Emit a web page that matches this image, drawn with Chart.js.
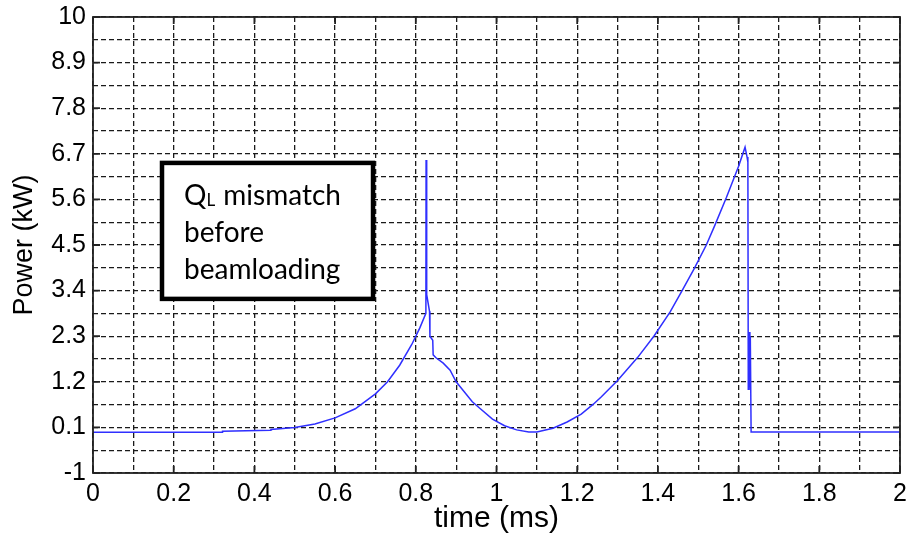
<!DOCTYPE html>
<html>
<head>
<meta charset="utf-8">
<script src="https://cdn.jsdelivr.net/npm/chart.js@4.4.1/dist/chart.umd.min.js"></script>
<style>
  html, body { margin: 0; padding: 0; background: #fff; }
  #wrap { width: 909px; height: 540px; }
</style>
</head>
<body>
<div id="wrap"><canvas id="chart"></canvas></div>
<script>
// values
const timeMs = [0, 0.32, 0.321, 0.44, 0.441, 0.5, 0.55, 0.6, 0.65, 0.7, 0.73, 0.76, 0.79, 0.81,
  0.825, 0.8255, 0.827, 0.834, 0.835, 0.842, 0.843, 0.85, 0.868, 0.885, 0.9, 0.92, 0.94, 0.96,
  0.99, 1.02, 1.05, 1.08, 1.1, 1.14, 1.175, 1.21, 1.24, 1.26, 1.3, 1.35, 1.39, 1.43, 1.46, 1.49,
  1.52, 1.54, 1.57, 1.6, 1.616, 1.621, 1.623, 1.624, 1.626, 1.628, 1.629, 1.631, 2];
const powerKW = [-0.02, -0.02, 0.01, 0.03, 0.05, 0.1, 0.18, 0.33, 0.55, 0.91, 1.2, 1.6, 2.1, 2.5,
  2.85, 6.55, 3.3, 2.9, 2.3, 2.2, 1.85, 1.78, 1.65, 1.48, 1.2, 0.96, 0.72, 0.55,
  0.3, 0.14, 0.04, -0.01, -0.01, 0.08, 0.23, 0.42, 0.66, 0.84, 1.23, 1.79, 2.3, 2.88, 3.4, 3.93,
  4.5, 4.95, 5.65, 6.4, 6.86, 6.62, 6.5, 1.0, 2.4, 1.0, 2.3, -0.01, -0.01];

const xTicks = [0, 0.2, 0.4, 0.6, 0.8, 1, 1.2, 1.4, 1.6, 1.8, 2];
const yTicks = [-1, 0.1, 1.2, 2.3, 3.4, 4.5, 5.6, 6.7, 7.8, 8.9, 10];

const xTitle = "time (ms)";
const yTitle = "Power (kW)";
const noteLines = [["Q", "L", " mismatch"], ["before"], ["beamloading"]];

// grid lines sit on every tick and halfway between
function withMidpoints(arr) {
  var out = [];
  for (var i = 0; i < arr.length; i++) {
    out.push(arr[i]);
    if (i < arr.length - 1) out.push((arr[i] + arr[i + 1]) / 2);
  }
  return out;
}
function isMajor(arr, v) {
  return arr.some(function (t) { return Math.abs(t - v) < 1e-6; });
}
function fmt(v) {
  return String(Number(v.toFixed(2)));
}

const sans = "'Liberation Sans', Arial, sans-serif";
const tickFont = { family: sans, size: 25 };

// box, inward tick marks and the text note
const framePlugin = {
  id: "frame",
  afterDraw(chart) {
    const ctx = chart.ctx;
    const a = chart.chartArea;
    const xs = chart.scales.x, ys = chart.scales.y;
    ctx.save();
    ctx.strokeStyle = "#222";
    ctx.lineWidth = 1.8;
    ctx.strokeRect(a.left, a.top, a.right - a.left, a.bottom - a.top);
    ctx.beginPath();
    xTicks.forEach(function (t) {
      const px = xs.getPixelForValue(t);
      ctx.moveTo(px, a.bottom); ctx.lineTo(px, a.bottom - 7);
      ctx.moveTo(px, a.top); ctx.lineTo(px, a.top + 7);
    });
    yTicks.forEach(function (t) {
      const py = ys.getPixelForValue(t);
      ctx.moveTo(a.left, py); ctx.lineTo(a.left + 7, py);
      ctx.moveTo(a.right, py); ctx.lineTo(a.right - 7, py);
    });
    ctx.stroke();

    // note box, placed in data units
    const bx1 = xs.getPixelForValue(0.171), bx2 = xs.getPixelForValue(0.694);
    const by1 = ys.getPixelForValue(6.48), by2 = ys.getPixelForValue(3.2);
    ctx.fillStyle = "#fff";
    ctx.fillRect(bx1, by1, bx2 - bx1, by2 - by1);
    ctx.lineWidth = 4.5;
    ctx.strokeStyle = "#000";
    ctx.strokeRect(bx1, by1, bx2 - bx1, by2 - by1);

    ctx.fillStyle = "#000";
    ctx.textBaseline = "alphabetic";
    ctx.textAlign = "left";
    const big = "28px Lato, 'Open Sans', sans-serif";
    const small = "17px Lato, 'Open Sans', sans-serif";
    let y = by1 + 42;
    noteLines.forEach(function (parts) {
      let x = bx1 + 22;
      parts.forEach(function (p, i) {
        const sub = parts.length > 1 && i === 1;
        ctx.font = sub ? small : big;
        ctx.fillText(p, x, y + (sub ? 1 : 0));
        x += ctx.measureText(p).width + (sub ? 1 : 0);
      });
      y += 37;
    });
    ctx.restore();
  }
};

const ctx = document.getElementById("chart").getContext("2d");
const chart = new Chart(ctx, {
  type: "line",
  data: {
    datasets: [{
      data: timeMs.map(function (t, i) { return { x: t, y: powerKW[i] }; }),
      borderColor: "#2f2fff",
      borderWidth: 1.5,
      pointRadius: 0,
      tension: 0,
      fill: false
    }]
  },
  options: {
    responsive: true,
    maintainAspectRatio: false,
    animation: false,
    layout: { padding: { top: 17, right: 9, left: 0, bottom: 0 } },
    plugins: {
      legend: { display: false },
      tooltip: { enabled: false }
    },
    scales: {
      x: {
        type: "linear",
        min: 0,
        max: 2,
        afterBuildTicks: function (s) {
          s.ticks = withMidpoints(xTicks).map(function (v) { return { value: v }; });
        },
        afterFit: function (s) { s.height = 67; s.paddingLeft = 0; s.paddingRight = 0; },
        ticks: {
          autoSkip: false,
          maxRotation: 0,
          padding: 6,
          color: "#000",
          font: tickFont,
          callback: function (v) { return isMajor(xTicks, v) ? fmt(v) : ""; }
        },
        grid: { color: "#1a1a1a", lineWidth: 1.3, drawTicks: false },
        border: { display: false, dash: [5, 3] },
        title: {
          display: true,
          text: xTitle,
          color: "#000",
          font: { family: sans, size: 30 },
          padding: { top: 0, bottom: 3 }
        }
      },
      y: {
        type: "linear",
        min: -1,
        max: 10,
        afterBuildTicks: function (s) {
          s.ticks = withMidpoints(yTicks).map(function (v) { return { value: v }; });
        },
        afterFit: function (s) { s.width = 93; s.paddingTop = 0; s.paddingBottom = 0; },
        ticks: {
          autoSkip: false,
          padding: 7,
          color: "#000",
          font: tickFont,
          callback: function (v) { return isMajor(yTicks, v) ? fmt(v) : ""; }
        },
        grid: { color: "#1a1a1a", lineWidth: 1.3, drawTicks: false },
        border: { display: false, dash: [5, 3] },
        title: {
          display: true,
          text: yTitle,
          color: "#000",
          font: { family: sans, size: 27 },
          padding: { top: 8, bottom: 0 }
        }
      }
    }
  },
  plugins: [framePlugin]
});
</script>
</body>
</html>
